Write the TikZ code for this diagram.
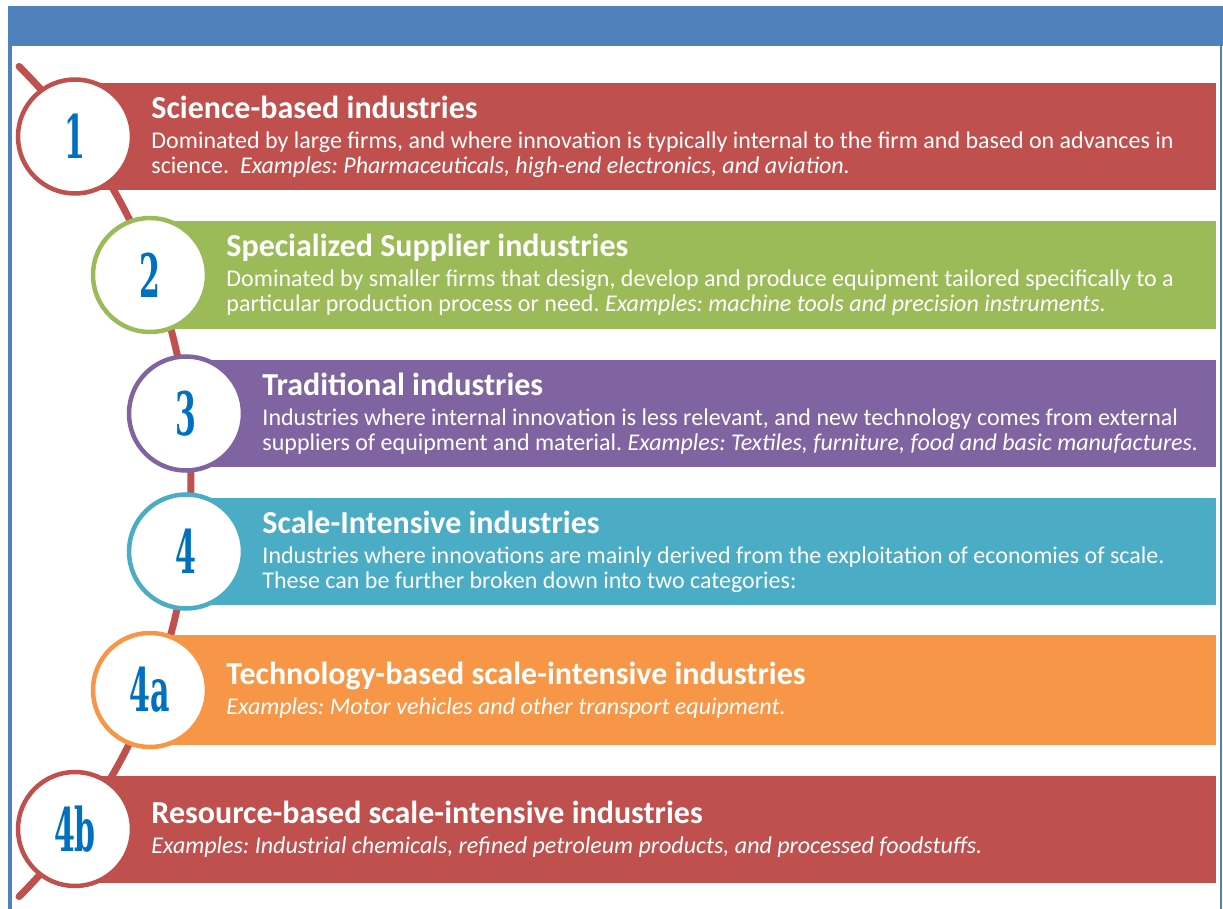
\documentclass[tikz,border=0pt]{standalone}
\usepackage{fontspec}
\setmainfont{Carlito}
\newfontfamily\numfont[FakeStretch=0.5]{DejaVu Serif}
\usetikzlibrary{positioning}

\definecolor{headblue}{HTML}{4F81BD}
\definecolor{sciencered}{HTML}{C0504D}
\definecolor{suppliergreen}{HTML}{9BBB59}
\definecolor{tradpurple}{HTML}{8064A2}
\definecolor{scaleteal}{HTML}{4BACC6}
\definecolor{techorange}{HTML}{F79646}
\definecolor{numblue}{HTML}{0070C0}

\newcommand{\headline}[1]{{\fontsize{32}{32}\selectfont\bfseries #1}}
\frenchspacing

\begin{document}
\begin{tikzpicture}[
    x=1pt, y=-1pt,
    bar/.style={rectangle, anchor=west, minimum height=107pt, inner sep=0pt},
    numcircle/.style={circle, draw, line width=4.5pt, fill=white, minimum size=114pt, inner sep=0pt, text=numblue, font=\numfont\bfseries\fontsize{60}{60}\selectfont},
    info/.style={anchor=west, align=left, inner sep=0pt, text=white, font=\fontsize{24}{25}\selectfont},
    spine/.style={sciencered, line width=7pt, line cap=round}
]
\useasboundingbox (0,0) rectangle (1223,909);

% frame
\fill[headblue] (8,6) rectangle (1223,46.5);
\draw[headblue, line width=4.5pt] (9.75,43) -- (9.75,909);
\draw[headblue, line width=2pt] (1221,46) -- (1221,909);

% spine behind the circles
\draw[spine] (-396,481.5) ++(-45:587) arc[start angle=-45, end angle=45, radius=587];

% bars
\node[bar, fill=sciencered, minimum width=1141pt] (sciencebar) at (75,136.5) {};
\node[bar, fill=suppliergreen, minimum width=1066pt] (supplierbar) at (150,275) {};
\node[bar, fill=tradpurple, minimum width=1030pt] (tradbar) at (186,413.5) {};
\node[bar, fill=scaleteal, minimum width=1030pt] (scalebar) at (186,551.5) {};
\node[bar, fill=techorange, minimum width=1066pt, minimum height=110pt] (techbar) at (150,690) {};
\node[bar, fill=sciencered, minimum width=1141pt] (resbar) at (75,829) {};

% numbered circles
\node[numcircle, draw=sciencered] (sciencenum) at (sciencebar.west) {1};
\node[numcircle, draw=suppliergreen] (suppliernum) at (supplierbar.west) {2};
\node[numcircle, draw=tradpurple] (tradnum) at (tradbar.west) {3};
\node[numcircle, draw=scaleteal] (scalenum) at (scalebar.west) {4};
\node[numcircle, draw=techorange] (technum) at (techbar.west) {4a};
\node[numcircle, draw=sciencered] (resnum) at (resbar.west) {4b};

% texts
\node[info, right=17pt of sciencenum] (sciencetxt) {\headline{Science-based industries}\\[5pt]
  Dominated by large firms, and where innovation is typically internal to the firm and based on advances in\\
  science.~ \textit{Examples: Pharmaceuticals, high-end electronics, and aviation.}};
\node[info, right=17pt of suppliernum] (suppliertxt) {\headline{Specialized Supplier industries}\\[5pt]
  Dominated by smaller firms that design, develop and produce equipment tailored specifically to a\\
  particular production process or need. \textit{Examples: machine tools and precision instruments.}};
\node[info, right=17pt of tradnum] (tradtxt) {\headline{Traditional industries}\\[5pt]
  Industries where internal innovation is less relevant, and new technology comes from external\\
  suppliers of equipment and material. \textit{Examples: Textiles, furniture, food and basic manufactures.}};
\node[info, right=17pt of scalenum] (scaletxt) {\headline{Scale-Intensive industries}\\[5pt]
  Industries where innovations are mainly derived from the exploitation of economies of scale.\\
  These can be further broken down into two categories:};
\node[info, right=17pt of technum] (techtxt) {\headline{Technology-based scale-intensive industries}\\[5pt]
  \textit{Examples: Motor vehicles and other transport equipment.}};
\node[info, right=17pt of resnum] (restxt) {\headline{Resource-based scale-intensive industries}\\[5pt]
  \textit{Examples: Industrial chemicals, refined petroleum products, and processed foodstuffs.}};
\end{tikzpicture}
\end{document}
